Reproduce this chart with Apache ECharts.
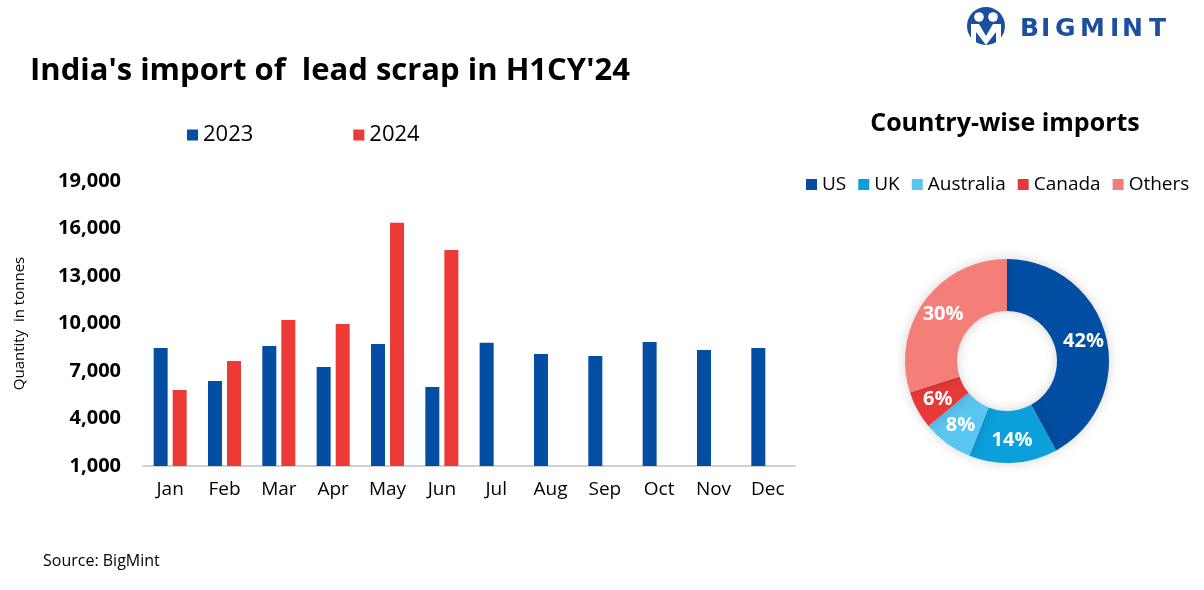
<!DOCTYPE html>
<html><head><meta charset="utf-8">
<script src="https://cdn.jsdelivr.net/npm/echarts@6/dist/echarts.min.js"></script>
<style>html,body{margin:0;padding:0;background:#fff}#c{width:1204px;height:590px}</style>
</head><body><div id="c"></div>
<script>
const months = ['Jan','Feb','Mar','Apr','May','Jun','Jul','Aug','Sep','Oct','Nov','Dec'];
const y2023 = [8450, 6370, 8580, 7250, 8700, 5990, 8780, 8070, 7950, 8830, 8330, 8450];
const y2024 = [5800, 7630, 10220, 9970, 16370, 14640, null, null, null, null, null, null];
const countries = ['US','UK','Australia','Canada','Others'];
const shares = [42, 14, 8, 6, 30];
const yTicks = {min: 1000, max: 19000, interval: 3000};

const F = '"Open Sans", "Liberation Sans", Arial, sans-serif';
const countryColors = ['#034EA2','#0BA0DC','#5BC5F2','#E8393A','#F47F78'];
const logoLetters = ['B','I','G','M','I','N','T'];
const logoX = [1020, 1041, 1055, 1080, 1110, 1122, 1149];
const chart = echarts.init(document.getElementById('c'));
chart.setOption({
  backgroundColor: '#fff',
  animation: false,
  title: [
    {text: "India's import of  lead scrap in H1CY'24", left: 25, top: 51,
     textStyle: {fontFamily: F, fontSize: 31, fontWeight: 'bold', color: '#000'}},
    {text: 'Country-wise imports', left: 1000, top: 106, textAlign: 'center',
     textStyle: {fontFamily: F, fontSize: 25, fontWeight: 'bold', color: '#000'}},
    {text: 'Source: BigMint', left: 38, top: 548,
     textStyle: {fontFamily: F, fontSize: 16, fontWeight: 'normal', color: '#000'}}
  ],
  legend: [
    {data: ['2023','2024'], left: 182, top: 119, itemWidth: 11, itemHeight: 11, itemGap: 100,
     icon: 'rect', textStyle: {fontFamily: F, fontSize: 22, color: '#000'}},
    {data: countries, left: 801, top: 170, itemWidth: 11, itemHeight: 11, itemGap: 12,
     icon: 'rect', textStyle: {fontFamily: F, fontSize: 19, color: '#000'}}
  ],
  grid: {left: 143, right: 409, top: 181, bottom: 124},
  xAxis: {type: 'category', data: months,
    axisLine: {lineStyle: {color: '#D0D0D0', width: 2}}, axisTick: {show: false},
    axisLabel: {fontFamily: F, fontSize: 19, color: '#000', margin: 14}},
  yAxis: {type: 'value', min: yTicks.min, max: yTicks.max, interval: yTicks.interval,
    name: 'Quantity  in tonnes', nameLocation: 'middle', nameGap: 116, nameRotate: 90,
    nameTextStyle: {fontFamily: F, fontSize: 15, color: '#000'},
    splitLine: {show: false}, axisLine: {show: false}, axisTick: {show: false},
    axisLabel: {fontFamily: F, fontSize: 20, fontWeight: 'bold', color: '#000', margin: 22,
      formatter: v => v.toLocaleString('en-US')}},
  series: [
    {name: '2023', type: 'bar', data: y2023, barWidth: 14, barGap: '36%',
     itemStyle: {color: '#034EA2'}},
    {name: '2024', type: 'bar', data: y2024, barWidth: 14,
     itemStyle: {color: '#EC3A36'}},
    {name: 'Country-wise imports', type: 'pie', center: [1007, 361], radius: [50, 102],
     startAngle: 90, clockwise: true,
     data: countries.map((c, i) => ({name: c, value: shares[i], itemStyle: {color: countryColors[i]}})),
     itemStyle: {shadowBlur: 12, shadowColor: 'rgba(0,0,0,0.18)'},
     label: {show: true, position: 'inside', formatter: '{c}%', color: '#fff',
       fontFamily: F, fontSize: 20, fontWeight: 'bold'},
     labelLine: {show: false}, emphasis: {disabled: true}}
  ],
  graphic: [
    {type: 'circle', shape: {cx: 986, cy: 26, r: 19}, style: {fill: '#1D4FA0'}},
    {type: 'circle', shape: {cx: 979, cy: 17, r: 4.8}, style: {fill: '#fff'}},
    {type: 'circle', shape: {cx: 993, cy: 17, r: 4.8}, style: {fill: '#fff'}},
    {type: 'polygon', shape: {points: [[971,24],[979,24],[986,36],[993,24],[1001,24],[1001,45],[996,45],[996,32],[986,45],[976,32],[976,45],[971,45]]}, style: {fill: '#fff'}}
  ].concat(logoLetters.map((ch, i) => ({
    type: 'text', x: logoX[i], y: 29,
    style: {text: ch, fill: '#1D4FA0', verticalAlign: 'middle',
      font: 'bold 25px "DejaVu Sans", "Liberation Sans", Arial, sans-serif'}
  })))
});
</script></body></html>
